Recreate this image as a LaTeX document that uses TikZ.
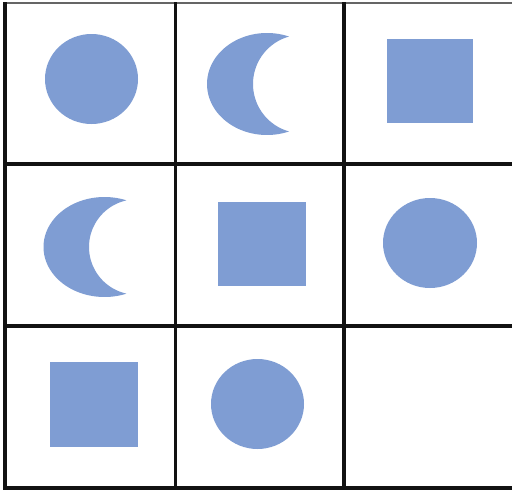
\documentclass[tikz,border=0pt]{standalone}
\definecolor{shapeblue}{RGB}{127,157,211}
\definecolor{gridline}{RGB}{18,18,18}
\tikzset{
  shapefill/.style={fill=shapeblue},
  gridstroke/.style={draw=gridline, line width=3.1pt},
}
\begin{document}
\begin{tikzpicture}[x=1pt,y=-1pt]
\useasboundingbox (0,0) rectangle (512,490);
\fill[white] (0,0) rectangle (512,490);
% row 1
\fill[shapefill] (91.5,79) ellipse [x radius=46.5, y radius=45];
\fill[shapefill] plot[smooth, domain=-68.49:-291.51, samples=90] ({267+60*cos(\x)},{84+51*sin(\x)})
  -- plot[smooth, domain=105.62:254.38, samples=60] ({302.27+49.27*cos(\x)},{84+49.27*sin(\x)}) -- cycle;
\fill[shapefill] (387,39) rectangle (473,123);
% row 2
\fill[shapefill] plot[smooth, domain=-68.86:-291.14, samples=90] ({104.5+61*cos(\x)},{247+50*sin(\x)})
  -- plot[smooth, domain=102.4:257.6, samples=60] ({136.75+47.75*cos(\x)},{247+47.75*sin(\x)}) -- cycle;
\fill[shapefill] (218,202) rectangle (306,286);
\fill[shapefill] (430,243) ellipse [x radius=47, y radius=45];
% row 3
\fill[shapefill] (50,362) rectangle (138,447);
\fill[shapefill] (257.5,404) ellipse [x radius=46.5, y radius=45];
% grid
\draw[draw=gridline!65, line width=1.5pt] (3.5,3) -- (512,3);
\draw[gridstroke] (5,2) -- (5,490);
\draw[gridstroke] (175.5,2) -- (175.5,490);
\draw[gridstroke] (344,2) -- (344,490);
\draw[gridstroke] (3.5,164) -- (512,164);
\draw[gridstroke] (3.5,326) -- (512,326);
\draw[gridstroke] (3.5,488) -- (512,488);
\end{tikzpicture}
\end{document}
